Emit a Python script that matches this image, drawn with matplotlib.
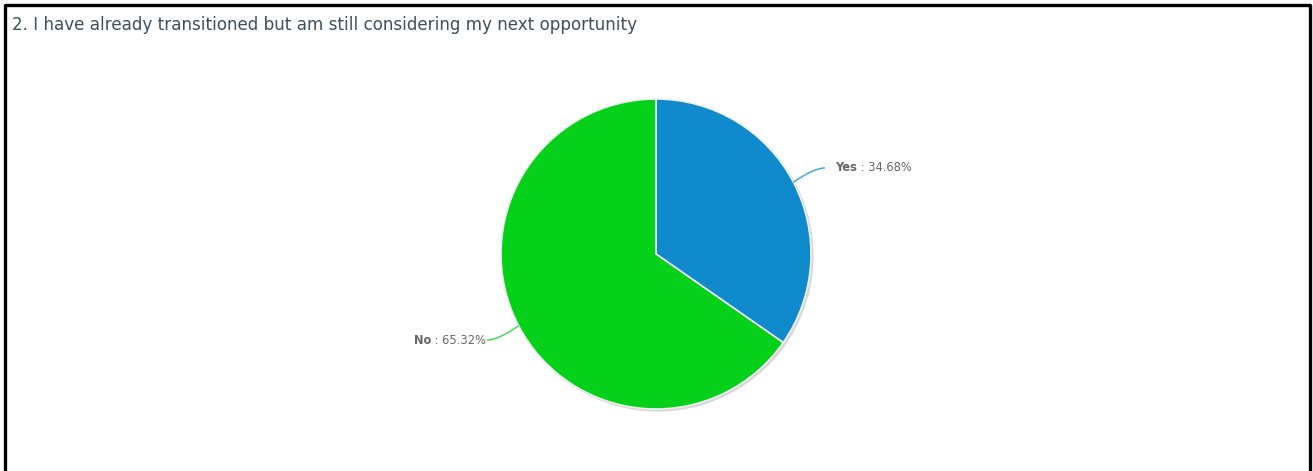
import numpy as np
import matplotlib
matplotlib.use("Agg")
import matplotlib.pyplot as plt
from matplotlib.lines import Line2D
from matplotlib.patches import Circle, PathPatch
from matplotlib.path import Path

TITLE = "2. I have already transitioned but am still considering my next opportunity"
LABELS = ["Yes", "No"]
VALUES = [34.68, 65.32]
COLORS = ["#0f8bcd", "#05d11b"]
TEXT = "#666666"

W, H = 1313, 471
fig = plt.figure(figsize=(W / 100, H / 100), dpi=100)
fig.patch.set_facecolor("white")

# frame: left, top, right (no bottom edge)
bx0, bx1, by = 4.5 / W, 1309.5 / W, 1 - 4.5 / H
fig.add_artist(Line2D([bx0, bx0, bx1, bx1], [0, by, by, 0],
                      transform=fig.transFigure, color="black", lw=2.4))

fig.text(12 / W, 1 - 25 / H, TITLE, fontsize=12.1, color="#3e4f5f",
         va="center", ha="left")

cx, cy, r = 656, 254, 155
ax = fig.add_axes([(cx - r) / W, (H - cy - r) / H, 2 * r / W, 2 * r / H])
ax.set_xlim(-1, 1)
ax.set_ylim(-1, 1)
ax.axis("off")

# soft shadow
ax.add_patch(Circle((0.012, -0.012), 1.0, color="#d8d8d8", zorder=0, clip_on=False))
wedges, _ = ax.pie(VALUES, colors=COLORS, startangle=90, counterclock=False,
                   radius=1, wedgeprops=dict(edgecolor="#f0f0f0", linewidth=1.2))
for w in wedges:
    w.set_zorder(1)
ax.set_xlim(-1, 1)
ax.set_ylim(-1, 1)

fig.canvas.draw()
rend = fig.canvas.get_renderer()

FS = 8.3
start = 90
for lab, val, col in zip(LABELS, VALUES, COLORS):
    mid = np.deg2rad(start - val * 3.6 / 2)
    start -= val * 3.6
    ex, ey = np.cos(mid), np.sin(mid)
    side = 1 if ex >= 0 else -1
    end = (side * 1.09, ey * 1.2)
    ctrl = (ex + 0.65 * (end[0] - ex), end[1])
    path = Path([(ex, ey), ctrl, end], [Path.MOVETO, Path.CURVE3, Path.CURVE3])
    ax.add_patch(PathPatch(path, fc="none", ec=col, lw=1.0, clip_on=False, alpha=0.8))
    if side > 0:
        t1 = ax.text(end[0] + 0.065, end[1], lab, fontsize=FS, fontweight="bold", color=TEXT,
                     ha="left", va="center", clip_on=False)
        bb = t1.get_window_extent(rend)
        ax.annotate(f" : {val:.2f}%", xy=(bb.x1, (bb.y0 + bb.y1) / 2), xycoords="figure pixels",
                    fontsize=FS, color=TEXT, ha="left", va="center")
    else:
        t2 = ax.text(end[0] - 0.005, end[1], f" : {val:.2f}%", fontsize=FS, color=TEXT,
                     ha="right", va="center", clip_on=False)
        bb = t2.get_window_extent(rend)
        ax.annotate(lab, xy=(bb.x0, (bb.y0 + bb.y1) / 2), xycoords="figure pixels",
                    fontsize=FS, fontweight="bold", color=TEXT, ha="right", va="center")

fig.savefig("out.png", dpi=100)
